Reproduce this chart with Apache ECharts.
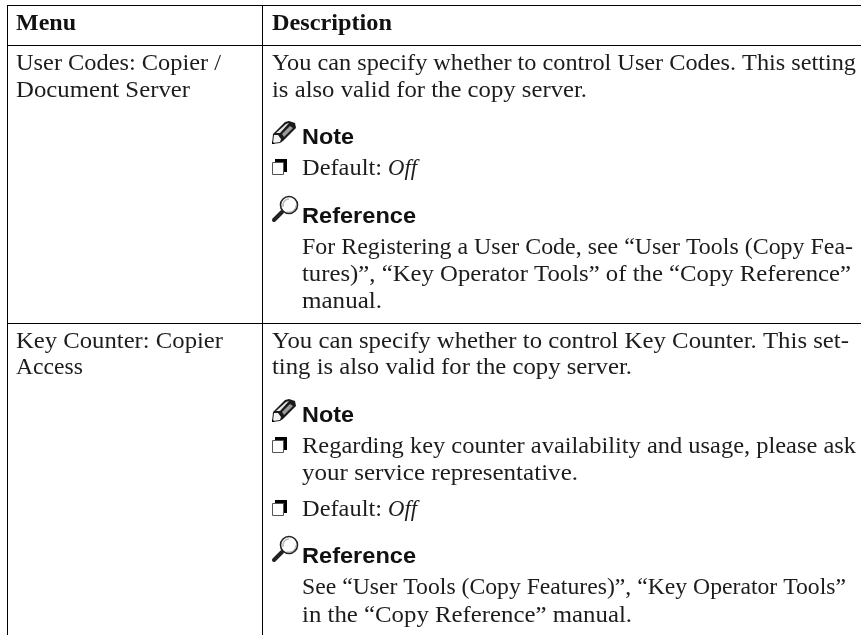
<!DOCTYPE html>
<html><head><meta charset="utf-8">
<style>html,body{margin:0;padding:0;background:#fff}#c{width:861px;height:635px}</style>
<script src="https://cdn.jsdelivr.net/npm/echarts@6/dist/echarts.min.js"></script>
</head><body><div id="c"></div>
<script>
const headerLabels = ["Menu", "Description"];
const menuLabels = ["User Codes: Copier /", "Document Server", "Key Counter: Copier", "Access"];
const descriptionLines = [
  "You can specify whether to control User Codes. This setting",
  "is also valid for the copy server.",
  "For Registering a User Code, see “User Tools (Copy Fea-",
  "tures)”, “Key Operator Tools” of the “Copy Reference”",
  "manual.",
  "You can specify whether to control Key Counter. This set-",
  "ting is also valid for the copy server.",
  "Regarding key counter availability and usage, please ask",
  "your service representative.",
  "See “User Tools (Copy Features)”, “Key Operator Tools”",
  "in the “Copy Reference” manual."
];
const noteLabel = "Note";
const referenceLabel = "Reference";
const defaultLabel = "Default:";
const offLabel = "Off";

// layout: [x, baseline, right edge]
const headerPos = [[16,29,76],[272,29,392]];
const menuPos = [[16,69,221],[16,96,190],[16,347,223],[16,373,83]];
const descPos = [[272,69,856],[272,96,587],[302,253,853],[302,280,851],[302,307,382],
  [272,347,849],[272,373,632],[302,452,856],[302,479,578],[302,593,846],[302,621,632]];
const notePos = [[302,143,354],[302,421,354]];
const refPos = [[302,222,416],[302,562,416]];
const defaultPos = [[302,174,382],[302,515,382]];
const offPos = [[388,174,417],[388,515,417]];
const checkTops = [159,437,500];
const pencilTops = [121,399];
const lensTops = [196,536];

const SERIF = '23px "Liberation Serif"';
const SERIF_B = 'bold 23px "Liberation Serif"';
const SERIF_I = 'italic 23px "Liberation Serif"';
const SANS_B = 'bold 22px "Liberation Sans"';
const INK = '#1c1c1c';
const mctx = document.createElement('canvas').getContext('2d');
function txt(s, pos, font, color) {
  mctx.font = font;
  const size = parseFloat(font.match(/(\d+)px/)[1]);
  const w = mctx.measureText(s).width;
  return {type:'text', x:pos[0], y:pos[1]-0.72*size, scaleX:(pos[2]-pos[0])/w, silent:true,
    style:{text:s, x:0, y:0, font:font, fill:color||INK, textAlign:'left', textBaseline:'top'}};
}
function line(x1,y1,x2,y2,w,c){
  return {type:'line', silent:true, shape:{x1,y1,x2,y2}, style:{stroke:c||'#000', lineWidth:w||1}};
}
function poly(points, fill){
  return {type:'polygon', silent:true, shape:{points}, style:{fill}};
}
function pencil(ox, oy){
  const P = a => a.map(p => [ox+p[0], oy+p[1]]);
  return [
    poly(P([[0,23],[1,13],[13,1],[17,0],[23,2],[24,7],[11,20],[8,22]]), '#1a1a1a'),
    poly(P([[4,12],[14,3],[17,2],[8,12]]), '#e4e4e4'),
    poly(P([[10,13],[18,5],[21,7],[12,16]]), '#9a9a9a'),
    poly(P([[2,14],[6,14],[9,18],[8,21],[1,22]]), '#f2f2f2'),
    poly(P([[0,23],[0,20],[3,23]]), '#000')
  ];
}
function lens(ox, oy){
  return [
    {type:'line', silent:true, shape:{x1:ox+2,y1:oy+24,x2:ox+10,y2:oy+16}, style:{stroke:'#222', lineWidth:4, lineCap:'round'}},
    {type:'circle', silent:true, shape:{cx:ox+17,cy:oy+9,r:8.5}, style:{fill:'#fff', stroke:'#222', lineWidth:1.6}},
    {type:'arc', silent:true, shape:{cx:ox+17,cy:oy+9,r:6,startAngle:Math.PI*0.9,endAngle:Math.PI*1.5}, style:{stroke:'#bbb', lineWidth:1.6, fill:null}},
    {type:'arc', silent:true, shape:{cx:ox+17,cy:oy+9,r:7.2,startAngle:0,endAngle:Math.PI*0.6}, style:{stroke:'#999', lineWidth:1, fill:null}}
  ];
}
function check(ox, oy){
  return [
    {type:'rect', silent:true, shape:{x:ox+3,y:oy,width:12,height:13}, style:{fill:'#000'}},
    {type:'rect', silent:true, shape:{x:ox+0.5,y:oy+3.5,width:11,height:12}, style:{fill:'#fff', stroke:'#555', lineWidth:1}}
  ];
}

const els = [
  line(7.5,5,7.5,635), line(262.5,5,262.5,635),
  line(7,5.5,861,5.5), line(7,45.5,861,45.5), line(7,323.5,861,323.5)
];
headerLabels.forEach((s,i)=>els.push(txt(s,headerPos[i],SERIF_B,'#111')));
menuLabels.forEach((s,i)=>els.push(txt(s,menuPos[i],SERIF)));
descriptionLines.forEach((s,i)=>els.push(txt(s,descPos[i],SERIF)));
notePos.forEach(p=>els.push(txt(noteLabel,p,SANS_B,'#111')));
refPos.forEach(p=>els.push(txt(referenceLabel,p,SANS_B,'#111')));
defaultPos.forEach(p=>els.push(txt(defaultLabel,p,SERIF)));
offPos.forEach(p=>els.push(txt(offLabel,p,SERIF_I)));
checkTops.forEach(y=>els.push(...check(272,y)));
pencilTops.forEach(y=>els.push(...pencil(272,y)));
lensTops.forEach(y=>els.push(...lens(272,y)));

const chart = echarts.init(document.getElementById('c'), null, {renderer:'canvas'});
chart.setOption({animation:false, backgroundColor:'#fff', graphic:{elements:els}});
</script></body></html>
